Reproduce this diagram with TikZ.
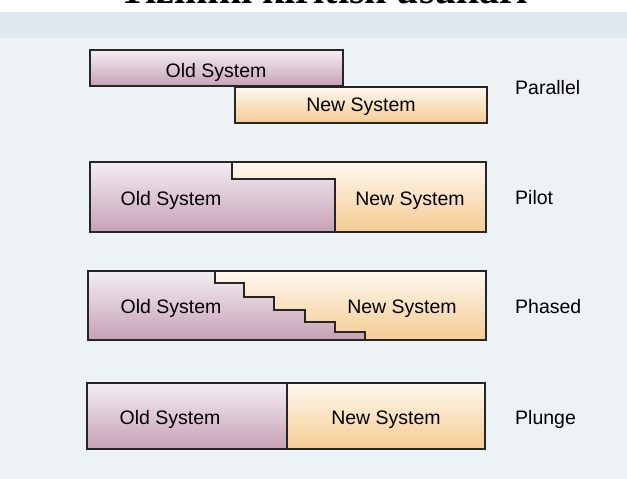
\documentclass[tikz,border=0pt]{standalone}
\usepackage{fontspec}
\setmainfont{Liberation Sans}
\newfontfamily\titlefont{Liberation Serif}
\usepackage{tikz}
\usetikzlibrary{positioning}
\definecolor{pagebg}{HTML}{EDF2F5}
\definecolor{bandbg}{HTML}{E0E9EF}
\definecolor{oldtop}{HTML}{F3EEF3}
\definecolor{oldbot}{HTML}{C6A1B6}
\definecolor{newtop}{HTML}{FDF8EF}
\definecolor{newbot}{HTML}{F5CB92}
\tikzset{
  oldsys/.style={top color=oldtop, bottom color=oldbot, draw=black!85, line width=1.2pt},
  newsys/.style={top color=newtop, bottom color=newbot, draw=black!85, line width=1.2pt},
  syslbl/.style={anchor=base, inner sep=0pt, font=\fontsize{19.5}{23}\selectfont},
  methodlbl/.style={anchor=base west, inner sep=0pt, font=\fontsize{19.5}{23}\selectfont}
}
\begin{document}
\begin{tikzpicture}[x=1pt,y=-1pt]
        \useasboundingbox (0,0) rectangle (627,479);
        % page and title
        \fill[white] (0,0) rectangle (627,479);
        \fill[pagebg] (0,12) rectangle (627,479);
        \fill[bandbg] (0,12) rectangle (627,38);
        \node[anchor=base, inner sep=0pt, font=\titlefont\bfseries\fontsize{40}{44}\selectfont]
          (title) at (324,4) {Tizimni kiritish usullari};
        % parallel
        \draw[oldsys] (90,50) rectangle (343,86);
        \draw[newsys] (235,87) rectangle (487,123);
        \node[syslbl] (oldpar) at (216,77) {Old System};
        \node[syslbl] (newpar) at (361,111) {New System};
        \node[methodlbl] (parallel) at (515,94) {Parallel};
        % pilot
        \draw[oldsys] (90,162) -- (232,162) -- (232,179) -- (335,179)
          -- (335,232) -- (90,232) -- cycle;
        \draw[newsys] (232,162) -- (486,162) -- (486,232) -- (335,232)
          -- (335,179) -- (232,179) -- cycle;
        \node[syslbl] (oldpil) at (171,205) {Old System};
        \node[syslbl] (newpil) at (410,205) {New System};
        \node[methodlbl] (pilot) at (515,204) {Pilot};
        % phased
        \draw[oldsys] (88,271) -- (215,271) -- (215,283) -- (244,283) -- (244,297)
          -- (274,297) -- (274,310) -- (305,310) -- (305,322) -- (335,322)
          -- (335,332) -- (365,332) -- (365,340) -- (88,340) -- cycle;
        \draw[newsys] (215,271) -- (486,271) -- (486,340) -- (365,340) -- (365,332)
          -- (335,332) -- (335,322) -- (305,322) -- (305,310) -- (274,310)
          -- (274,297) -- (244,297) -- (244,283) -- (215,283) -- cycle;
        \node[syslbl] (oldpha) at (171,313) {Old System};
        \node[syslbl] (newpha) at (402,313) {New System};
        \node[methodlbl] (phased) at (515,313) {Phased};
        % plunge
        \draw[oldsys] (87,383) rectangle (287,449);
        \draw[newsys] (287,383) rectangle (485,449);
        \node[syslbl] (oldplu) at (170,424) {Old System};
        \node[syslbl] (newplu) at (386,424) {New System};
        \node[methodlbl] (plunge) at (515,424) {Plunge};
      \end{tikzpicture}
\end{document}
